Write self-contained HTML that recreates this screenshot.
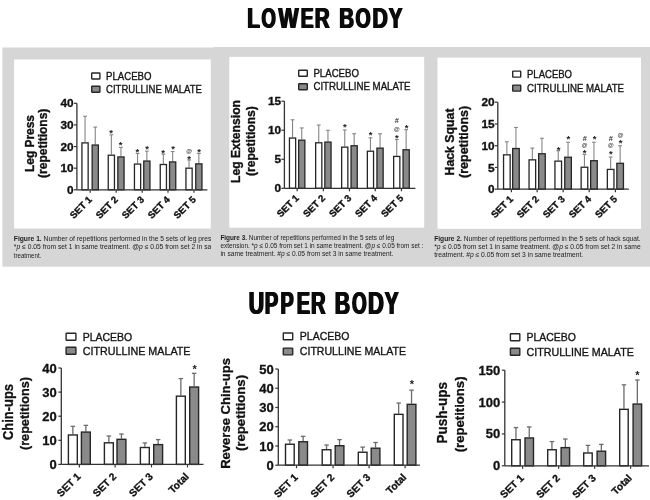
<!DOCTYPE html><html><head><meta charset="utf-8"><style>html,body{margin:0;padding:0;background:#fff;width:650px;height:500px;overflow:hidden}svg{display:block;will-change:transform}</style></head><body>
<svg width="650" height="500" viewBox="0 0 650 500" font-family='"Liberation Sans", sans-serif'>
<rect width="650" height="500" fill="#fff"/>
<text transform="translate(246.52,27.7) scale(0.6865,1)" font-size="30.09" font-weight="bold" fill="#0b0b0b">L</text>
<text transform="translate(247.27,27.7) scale(0.6865,1)" font-size="30.09" font-weight="bold" fill="#0b0b0b">L</text>
<text transform="translate(248.02,27.7) scale(0.6865,1)" font-size="30.09" font-weight="bold" fill="#0b0b0b">L</text>
<text transform="translate(260.74,27.7) scale(0.6123,1)" font-size="30.09" font-weight="bold" fill="#0b0b0b">O</text>
<text transform="translate(261.49,27.7) scale(0.6123,1)" font-size="30.09" font-weight="bold" fill="#0b0b0b">O</text>
<text transform="translate(262.24,27.7) scale(0.6123,1)" font-size="30.09" font-weight="bold" fill="#0b0b0b">O</text>
<text transform="translate(277.68,27.7) scale(0.7057,1)" font-size="30.09" font-weight="bold" fill="#0b0b0b">W</text>
<text transform="translate(278.43,27.7) scale(0.7057,1)" font-size="30.09" font-weight="bold" fill="#0b0b0b">W</text>
<text transform="translate(279.18,27.7) scale(0.7057,1)" font-size="30.09" font-weight="bold" fill="#0b0b0b">W</text>
<text transform="translate(299.91,27.7) scale(0.6398,1)" font-size="30.09" font-weight="bold" fill="#0b0b0b">E</text>
<text transform="translate(300.66,27.7) scale(0.6398,1)" font-size="30.09" font-weight="bold" fill="#0b0b0b">E</text>
<text transform="translate(301.41,27.7) scale(0.6398,1)" font-size="30.09" font-weight="bold" fill="#0b0b0b">E</text>
<text transform="translate(314.02,27.7) scale(0.6859,1)" font-size="30.09" font-weight="bold" fill="#0b0b0b">R</text>
<text transform="translate(314.77,27.7) scale(0.6859,1)" font-size="30.09" font-weight="bold" fill="#0b0b0b">R</text>
<text transform="translate(315.52,27.7) scale(0.6859,1)" font-size="30.09" font-weight="bold" fill="#0b0b0b">R</text>
<text transform="translate(338.43,27.7) scale(0.6812,1)" font-size="30.09" font-weight="bold" fill="#0b0b0b">B</text>
<text transform="translate(339.18,27.7) scale(0.6812,1)" font-size="30.09" font-weight="bold" fill="#0b0b0b">B</text>
<text transform="translate(339.93,27.7) scale(0.6812,1)" font-size="30.09" font-weight="bold" fill="#0b0b0b">B</text>
<text transform="translate(354.7,27.7) scale(0.6458,1)" font-size="30.09" font-weight="bold" fill="#0b0b0b">O</text>
<text transform="translate(355.45,27.7) scale(0.6458,1)" font-size="30.09" font-weight="bold" fill="#0b0b0b">O</text>
<text transform="translate(356.2,27.7) scale(0.6458,1)" font-size="30.09" font-weight="bold" fill="#0b0b0b">O</text>
<text transform="translate(371.78,27.7) scale(0.7045,1)" font-size="30.09" font-weight="bold" fill="#0b0b0b">D</text>
<text transform="translate(372.53,27.7) scale(0.7045,1)" font-size="30.09" font-weight="bold" fill="#0b0b0b">D</text>
<text transform="translate(373.28,27.7) scale(0.7045,1)" font-size="30.09" font-weight="bold" fill="#0b0b0b">D</text>
<text transform="translate(387.95,27.7) scale(0.6817,1)" font-size="30.09" font-weight="bold" fill="#0b0b0b">Y</text>
<text transform="translate(388.7,27.7) scale(0.6817,1)" font-size="30.09" font-weight="bold" fill="#0b0b0b">Y</text>
<text transform="translate(389.45,27.7) scale(0.6817,1)" font-size="30.09" font-weight="bold" fill="#0b0b0b">Y</text>
<text transform="translate(247.92,314.1) scale(0.6977,1)" font-size="30.52" font-weight="bold" fill="#0b0b0b">U</text>
<text transform="translate(248.67,314.1) scale(0.6977,1)" font-size="30.52" font-weight="bold" fill="#0b0b0b">U</text>
<text transform="translate(249.42,314.1) scale(0.6977,1)" font-size="30.52" font-weight="bold" fill="#0b0b0b">U</text>
<text transform="translate(264.05,314.1) scale(0.6600,1)" font-size="30.52" font-weight="bold" fill="#0b0b0b">P</text>
<text transform="translate(264.8,314.1) scale(0.6600,1)" font-size="30.52" font-weight="bold" fill="#0b0b0b">P</text>
<text transform="translate(265.55,314.1) scale(0.6600,1)" font-size="30.52" font-weight="bold" fill="#0b0b0b">P</text>
<text transform="translate(279.68,314.1) scale(0.6484,1)" font-size="30.52" font-weight="bold" fill="#0b0b0b">P</text>
<text transform="translate(280.43,314.1) scale(0.6484,1)" font-size="30.52" font-weight="bold" fill="#0b0b0b">P</text>
<text transform="translate(281.18,314.1) scale(0.6484,1)" font-size="30.52" font-weight="bold" fill="#0b0b0b">P</text>
<text transform="translate(295.96,314.1) scale(0.6540,1)" font-size="30.52" font-weight="bold" fill="#0b0b0b">E</text>
<text transform="translate(296.71,314.1) scale(0.6540,1)" font-size="30.52" font-weight="bold" fill="#0b0b0b">E</text>
<text transform="translate(297.46,314.1) scale(0.6540,1)" font-size="30.52" font-weight="bold" fill="#0b0b0b">E</text>
<text transform="translate(310.15,314.1) scale(0.6606,1)" font-size="30.52" font-weight="bold" fill="#0b0b0b">R</text>
<text transform="translate(310.9,314.1) scale(0.6606,1)" font-size="30.52" font-weight="bold" fill="#0b0b0b">R</text>
<text transform="translate(311.65,314.1) scale(0.6606,1)" font-size="30.52" font-weight="bold" fill="#0b0b0b">R</text>
<text transform="translate(333.97,314.1) scale(0.6984,1)" font-size="30.52" font-weight="bold" fill="#0b0b0b">B</text>
<text transform="translate(334.72,314.1) scale(0.6984,1)" font-size="30.52" font-weight="bold" fill="#0b0b0b">B</text>
<text transform="translate(335.47,314.1) scale(0.6984,1)" font-size="30.52" font-weight="bold" fill="#0b0b0b">B</text>
<text transform="translate(351.23,314.1) scale(0.6177,1)" font-size="30.52" font-weight="bold" fill="#0b0b0b">O</text>
<text transform="translate(351.98,314.1) scale(0.6177,1)" font-size="30.52" font-weight="bold" fill="#0b0b0b">O</text>
<text transform="translate(352.73,314.1) scale(0.6177,1)" font-size="30.52" font-weight="bold" fill="#0b0b0b">O</text>
<text transform="translate(367.33,314.1) scale(0.7212,1)" font-size="30.52" font-weight="bold" fill="#0b0b0b">D</text>
<text transform="translate(368.08,314.1) scale(0.7212,1)" font-size="30.52" font-weight="bold" fill="#0b0b0b">D</text>
<text transform="translate(368.83,314.1) scale(0.7212,1)" font-size="30.52" font-weight="bold" fill="#0b0b0b">D</text>
<text transform="translate(383.95,314.1) scale(0.6772,1)" font-size="30.52" font-weight="bold" fill="#0b0b0b">Y</text>
<text transform="translate(384.7,314.1) scale(0.6772,1)" font-size="30.52" font-weight="bold" fill="#0b0b0b">Y</text>
<text transform="translate(385.45,314.1) scale(0.6772,1)" font-size="30.52" font-weight="bold" fill="#0b0b0b">Y</text>
<rect x="2.4" y="47" width="647.6" height="219.7" fill="#d6d6d6"/>
<rect x="2.4" y="47" width="211" height="1" fill="#fff" opacity="0.5"/>
<rect x="14.1" y="59.5" width="196.7" height="169" fill="#fff"/>
<rect x="229.3" y="56.9" width="194.9" height="170.8" fill="#fff"/>
<rect x="437.5" y="57.6" width="203.5" height="171.2" fill="#fff"/>
<defs><clipPath id="cl1"><rect x="0" y="228" width="211" height="40"/></clipPath><clipPath id="cl2"><rect x="218" y="228" width="206" height="40"/></clipPath></defs>
<text x="13.8" y="240.9" font-size="6.9" fill="#1c1c1c" textLength="197.5" lengthAdjust="spacingAndGlyphs" clip-path="url(#cl1)"><tspan font-weight="bold">Figure 1.</tspan> Number of repetitions performed in the 5 sets of leg pres</text>
<text x="13.8" y="249.3" font-size="6.9" fill="#1c1c1c" textLength="197.5" lengthAdjust="spacingAndGlyphs" clip-path="url(#cl1)">*<tspan font-style="italic">p</tspan> ≤ 0.05 from set 1 in same treatment. @<tspan font-style="italic">p</tspan> ≤ 0.05 from set 2 in sa</text>
<text x="13.8" y="257.8" font-size="6.9" fill="#1c1c1c" textLength="27.5" lengthAdjust="spacingAndGlyphs" clip-path="url(#cl1)">treatment.</text>
<text x="220.4" y="239.6" font-size="6.9" fill="#1c1c1c" textLength="174" lengthAdjust="spacingAndGlyphs" clip-path="url(#cl2)"><tspan font-weight="bold">Figure 3.</tspan> Number of repetitions performed in the 5 sets of leg</text>
<text x="220.4" y="248" font-size="6.9" fill="#1c1c1c" textLength="203" lengthAdjust="spacingAndGlyphs" clip-path="url(#cl2)">extension. *<tspan font-style="italic">p</tspan> ≤ 0.05 from set 1 in same treatment. @<tspan font-style="italic">p</tspan> ≤ 0.05 from set :</text>
<text x="220.4" y="256.4" font-size="6.9" fill="#1c1c1c" textLength="173" lengthAdjust="spacingAndGlyphs" clip-path="url(#cl2)">in same treatment. #<tspan font-style="italic">p</tspan> ≤ 0.05 from set 3 in same treatment.</text>
<text x="434.2" y="240.8" font-size="6.9" fill="#1c1c1c" textLength="206.5" lengthAdjust="spacingAndGlyphs"><tspan font-weight="bold">Figure 2.</tspan> Number of repetitions performed in the 5 sets of hack squat.</text>
<text x="434.2" y="249" font-size="6.9" fill="#1c1c1c" textLength="206.5" lengthAdjust="spacingAndGlyphs">*<tspan font-style="italic">p</tspan> ≤ 0.05 from set 1 in same treatment. @<tspan font-style="italic">p</tspan> ≤ 0.05 from set 2 in same</text>
<text x="434.2" y="257.4" font-size="6.9" fill="#1c1c1c" textLength="149" lengthAdjust="spacingAndGlyphs">treatment. #<tspan font-style="italic">p</tspan> ≤ 0.05 from set 3 in same treatment.</text>
<line x1="85.05" y1="142.22" x2="85.05" y2="116.27" stroke="#858585" stroke-width="1.1"/>
<line x1="83.15" y1="116.27" x2="86.95" y2="116.27" stroke="#858585" stroke-width="1.1"/>
<rect x="81.95" y="142.88" width="6.2" height="46.93" fill="#fff" stroke="#262626" stroke-width="1.3"/>
<line x1="95.25" y1="144.39" x2="95.25" y2="127.09" stroke="#858585" stroke-width="1.1"/>
<line x1="93.35" y1="127.09" x2="97.15" y2="127.09" stroke="#858585" stroke-width="1.1"/>
<rect x="92.15" y="145.04" width="6.2" height="44.76" fill="#8a8a8a" stroke="#262626" stroke-width="1.3"/>
<line x1="111.35" y1="154.55" x2="111.35" y2="134.87" stroke="#858585" stroke-width="1.1"/>
<line x1="109.45" y1="134.87" x2="113.25" y2="134.87" stroke="#858585" stroke-width="1.1"/>
<rect x="108.25" y="155.2" width="6.2" height="34.6" fill="#fff" stroke="#262626" stroke-width="1.3"/>
<line x1="120.95" y1="156.28" x2="120.95" y2="147.41" stroke="#858585" stroke-width="1.1"/>
<line x1="119.05" y1="147.41" x2="122.85" y2="147.41" stroke="#858585" stroke-width="1.1"/>
<rect x="117.85" y="156.93" width="6.2" height="32.87" fill="#8a8a8a" stroke="#262626" stroke-width="1.3"/>
<line x1="137.55" y1="163.42" x2="137.55" y2="153.47" stroke="#858585" stroke-width="1.1"/>
<line x1="135.65" y1="153.47" x2="139.45" y2="153.47" stroke="#858585" stroke-width="1.1"/>
<rect x="134.45" y="164.07" width="6.2" height="25.73" fill="#fff" stroke="#262626" stroke-width="1.3"/>
<line x1="146.85" y1="160.39" x2="146.85" y2="151.09" stroke="#858585" stroke-width="1.1"/>
<line x1="144.95" y1="151.09" x2="148.75" y2="151.09" stroke="#858585" stroke-width="1.1"/>
<rect x="143.75" y="161.04" width="6.2" height="28.76" fill="#8a8a8a" stroke="#262626" stroke-width="1.3"/>
<line x1="163.35" y1="163.85" x2="163.35" y2="154.12" stroke="#858585" stroke-width="1.1"/>
<line x1="161.45" y1="154.12" x2="165.25" y2="154.12" stroke="#858585" stroke-width="1.1"/>
<rect x="160.25" y="164.5" width="6.2" height="25.3" fill="#fff" stroke="#262626" stroke-width="1.3"/>
<line x1="172.65" y1="161.25" x2="172.65" y2="151.52" stroke="#858585" stroke-width="1.1"/>
<line x1="170.75" y1="151.52" x2="174.55" y2="151.52" stroke="#858585" stroke-width="1.1"/>
<rect x="169.55" y="161.91" width="6.2" height="27.9" fill="#8a8a8a" stroke="#262626" stroke-width="1.3"/>
<line x1="189.05" y1="167.53" x2="189.05" y2="159.96" stroke="#858585" stroke-width="1.1"/>
<line x1="187.15" y1="159.96" x2="190.95" y2="159.96" stroke="#858585" stroke-width="1.1"/>
<rect x="185.95" y="168.18" width="6.2" height="21.62" fill="#fff" stroke="#262626" stroke-width="1.3"/>
<line x1="198.85" y1="163.2" x2="198.85" y2="153.47" stroke="#858585" stroke-width="1.1"/>
<line x1="196.95" y1="153.47" x2="200.75" y2="153.47" stroke="#858585" stroke-width="1.1"/>
<rect x="195.75" y="163.85" width="6.2" height="25.95" fill="#8a8a8a" stroke="#262626" stroke-width="1.3"/>
<text x="111" y="136.27" font-size="9.5" font-weight="bold" text-anchor="middle" fill="#1a1a1a">*</text>
<text x="120.7" y="148.47" font-size="9.5" font-weight="bold" text-anchor="middle" fill="#1a1a1a">*</text>
<text x="137.3" y="155.27" font-size="9.5" font-weight="bold" text-anchor="middle" fill="#1a1a1a">*</text>
<text x="147.1" y="151.87" font-size="9.5" font-weight="bold" text-anchor="middle" fill="#1a1a1a">*</text>
<text x="163.2" y="156.17" font-size="9.5" font-weight="bold" text-anchor="middle" fill="#1a1a1a">*</text>
<text x="173.2" y="151.87" font-size="9.5" font-weight="bold" text-anchor="middle" fill="#1a1a1a">*</text>
<text x="189.2" y="161.77" font-size="9.5" font-weight="bold" text-anchor="middle" fill="#1a1a1a">*</text>
<text x="189.2" y="152.83" font-size="5.89" font-weight="bold" text-anchor="middle" fill="#333">@</text>
<text x="199.2" y="154.97" font-size="9.5" font-weight="bold" text-anchor="middle" fill="#1a1a1a">*</text>
<line x1="76.9" y1="103.3" x2="76.9" y2="189.8" stroke="#333" stroke-width="1.3"/>
<line x1="76.9" y1="189.8" x2="207.4" y2="189.8" stroke="#333" stroke-width="1.3"/>
<line x1="73.9" y1="189.8" x2="76.9" y2="189.8" stroke="#333" stroke-width="1.2"/>
<text x="73.6" y="193.93" font-size="11.8" font-weight="bold" text-anchor="end" fill="#111" stroke="#111" stroke-width="0.35">0</text>
<line x1="73.9" y1="168.18" x2="76.9" y2="168.18" stroke="#333" stroke-width="1.2"/>
<text x="73.6" y="172.31" font-size="11.8" font-weight="bold" text-anchor="end" fill="#111" stroke="#111" stroke-width="0.35">10</text>
<line x1="73.9" y1="146.55" x2="76.9" y2="146.55" stroke="#333" stroke-width="1.2"/>
<text x="73.6" y="150.68" font-size="11.8" font-weight="bold" text-anchor="end" fill="#111" stroke="#111" stroke-width="0.35">20</text>
<line x1="73.9" y1="124.92" x2="76.9" y2="124.92" stroke="#333" stroke-width="1.2"/>
<text x="73.6" y="129.06" font-size="11.8" font-weight="bold" text-anchor="end" fill="#111" stroke="#111" stroke-width="0.35">30</text>
<line x1="73.9" y1="103.3" x2="76.9" y2="103.3" stroke="#333" stroke-width="1.2"/>
<text x="73.6" y="107.43" font-size="11.8" font-weight="bold" text-anchor="end" fill="#111" stroke="#111" stroke-width="0.35">40</text>
<line x1="90.15" y1="189.8" x2="90.15" y2="192.8" stroke="#333" stroke-width="1.2"/>
<text transform="translate(92.65,200.3) rotate(-45)" font-size="9.6" font-weight="bold" text-anchor="end" fill="#111" stroke="#111" stroke-width="0.35">SET 1</text>
<line x1="116.15" y1="189.8" x2="116.15" y2="192.8" stroke="#333" stroke-width="1.2"/>
<text transform="translate(118.65,200.3) rotate(-45)" font-size="9.6" font-weight="bold" text-anchor="end" fill="#111" stroke="#111" stroke-width="0.35">SET 2</text>
<line x1="142.2" y1="189.8" x2="142.2" y2="192.8" stroke="#333" stroke-width="1.2"/>
<text transform="translate(144.7,200.3) rotate(-45)" font-size="9.6" font-weight="bold" text-anchor="end" fill="#111" stroke="#111" stroke-width="0.35">SET 3</text>
<line x1="168" y1="189.8" x2="168" y2="192.8" stroke="#333" stroke-width="1.2"/>
<text transform="translate(170.5,200.3) rotate(-45)" font-size="9.6" font-weight="bold" text-anchor="end" fill="#111" stroke="#111" stroke-width="0.35">SET 4</text>
<line x1="193.95" y1="189.8" x2="193.95" y2="192.8" stroke="#333" stroke-width="1.2"/>
<text transform="translate(196.45,200.3) rotate(-45)" font-size="9.6" font-weight="bold" text-anchor="end" fill="#111" stroke="#111" stroke-width="0.35">SET 5</text>
<text transform="translate(33.9,143.5) rotate(-90)" font-size="12.8" font-weight="bold" text-anchor="middle" fill="#111" stroke="#111" stroke-width="0.35" textLength="57" lengthAdjust="spacingAndGlyphs">Leg Press</text>
<text transform="translate(47.4,143.3) rotate(-90)" font-size="12.6" font-weight="bold" text-anchor="middle" fill="#111" stroke="#111" stroke-width="0.35" textLength="69.3" lengthAdjust="spacingAndGlyphs">(repetitions)</text>
<rect x="91.7" y="73" width="8.2" height="6" rx="0.4" fill="#fff" stroke="#262626" stroke-width="1.4"/>
<rect x="91.7" y="86.2" width="8.2" height="6" rx="0.4" fill="#8a8a8a" stroke="#262626" stroke-width="1.4"/>
<text x="106" y="79.78" font-size="10.5" font-weight="normal" text-anchor="start" fill="#151515" textLength="45.5" lengthAdjust="spacingAndGlyphs" stroke="#151515" stroke-width="0.35">PLACEBO</text>
<text x="106" y="92.98" font-size="10.5" font-weight="normal" text-anchor="start" fill="#151515" textLength="96" lengthAdjust="spacingAndGlyphs" stroke="#151515" stroke-width="0.35">CITRULLINE MALATE</text>
<line x1="292.55" y1="137.38" x2="292.55" y2="119.78" stroke="#858585" stroke-width="1.1"/>
<line x1="290.65" y1="119.78" x2="294.45" y2="119.78" stroke="#858585" stroke-width="1.1"/>
<rect x="289.45" y="138.03" width="6.2" height="50.27" fill="#fff" stroke="#262626" stroke-width="1.3"/>
<line x1="301.75" y1="139.52" x2="301.75" y2="127.91" stroke="#858585" stroke-width="1.1"/>
<line x1="299.85" y1="127.91" x2="303.65" y2="127.91" stroke="#858585" stroke-width="1.1"/>
<rect x="298.65" y="140.17" width="6.2" height="48.13" fill="#8a8a8a" stroke="#262626" stroke-width="1.3"/>
<line x1="318.75" y1="142.14" x2="318.75" y2="125.01" stroke="#858585" stroke-width="1.1"/>
<line x1="316.85" y1="125.01" x2="320.65" y2="125.01" stroke="#858585" stroke-width="1.1"/>
<rect x="315.65" y="142.79" width="6.2" height="45.51" fill="#fff" stroke="#262626" stroke-width="1.3"/>
<line x1="327.95" y1="141.44" x2="327.95" y2="130.23" stroke="#858585" stroke-width="1.1"/>
<line x1="326.05" y1="130.23" x2="329.85" y2="130.23" stroke="#858585" stroke-width="1.1"/>
<rect x="324.85" y="142.09" width="6.2" height="46.21" fill="#8a8a8a" stroke="#262626" stroke-width="1.3"/>
<line x1="344.75" y1="146.49" x2="344.75" y2="129.94" stroke="#858585" stroke-width="1.1"/>
<line x1="342.85" y1="129.94" x2="346.65" y2="129.94" stroke="#858585" stroke-width="1.1"/>
<rect x="341.65" y="147.14" width="6.2" height="41.16" fill="#fff" stroke="#262626" stroke-width="1.3"/>
<line x1="354.15" y1="145.1" x2="354.15" y2="133.72" stroke="#858585" stroke-width="1.1"/>
<line x1="352.25" y1="133.72" x2="356.05" y2="133.72" stroke="#858585" stroke-width="1.1"/>
<rect x="351.05" y="145.75" width="6.2" height="42.55" fill="#8a8a8a" stroke="#262626" stroke-width="1.3"/>
<line x1="370.45" y1="150.56" x2="370.45" y2="137.78" stroke="#858585" stroke-width="1.1"/>
<line x1="368.55" y1="137.78" x2="372.35" y2="137.78" stroke="#858585" stroke-width="1.1"/>
<rect x="367.35" y="151.21" width="6.2" height="37.09" fill="#fff" stroke="#262626" stroke-width="1.3"/>
<line x1="380.05" y1="147.48" x2="380.05" y2="133.72" stroke="#858585" stroke-width="1.1"/>
<line x1="378.15" y1="133.72" x2="381.95" y2="133.72" stroke="#858585" stroke-width="1.1"/>
<rect x="376.95" y="148.13" width="6.2" height="40.17" fill="#8a8a8a" stroke="#262626" stroke-width="1.3"/>
<line x1="396.75" y1="155.78" x2="396.75" y2="139.52" stroke="#858585" stroke-width="1.1"/>
<line x1="394.85" y1="139.52" x2="398.65" y2="139.52" stroke="#858585" stroke-width="1.1"/>
<rect x="393.65" y="156.43" width="6.2" height="31.87" fill="#fff" stroke="#262626" stroke-width="1.3"/>
<line x1="406.15" y1="149.11" x2="406.15" y2="129.65" stroke="#858585" stroke-width="1.1"/>
<line x1="404.25" y1="129.65" x2="408.05" y2="129.65" stroke="#858585" stroke-width="1.1"/>
<rect x="403.05" y="149.76" width="6.2" height="38.54" fill="#8a8a8a" stroke="#262626" stroke-width="1.3"/>
<text x="344.8" y="130.17" font-size="9.5" font-weight="bold" text-anchor="middle" fill="#1a1a1a">*</text>
<text x="370.7" y="138.07" font-size="9.5" font-weight="bold" text-anchor="middle" fill="#1a1a1a">*</text>
<text x="396.9" y="140.57" font-size="9.5" font-weight="bold" text-anchor="middle" fill="#1a1a1a">*</text>
<text x="396.9" y="130.53" font-size="5.89" font-weight="bold" text-anchor="middle" fill="#333">@</text>
<text x="396.9" y="123.32" font-size="7.41" font-weight="bold" text-anchor="middle" fill="#333">#</text>
<text x="406.5" y="130.57" font-size="9.5" font-weight="bold" text-anchor="middle" fill="#1a1a1a">*</text>
<line x1="284.4" y1="101.2" x2="284.4" y2="188.3" stroke="#333" stroke-width="1.3"/>
<line x1="284.4" y1="188.3" x2="415.4" y2="188.3" stroke="#333" stroke-width="1.3"/>
<line x1="281.4" y1="188.3" x2="284.4" y2="188.3" stroke="#333" stroke-width="1.2"/>
<text x="281.1" y="192.43" font-size="11.8" font-weight="bold" text-anchor="end" fill="#111" stroke="#111" stroke-width="0.35">0</text>
<line x1="281.4" y1="159.27" x2="284.4" y2="159.27" stroke="#333" stroke-width="1.2"/>
<text x="281.1" y="163.4" font-size="11.8" font-weight="bold" text-anchor="end" fill="#111" stroke="#111" stroke-width="0.35">5</text>
<line x1="281.4" y1="130.23" x2="284.4" y2="130.23" stroke="#333" stroke-width="1.2"/>
<text x="281.1" y="134.36" font-size="11.8" font-weight="bold" text-anchor="end" fill="#111" stroke="#111" stroke-width="0.35">10</text>
<line x1="281.4" y1="101.2" x2="284.4" y2="101.2" stroke="#333" stroke-width="1.2"/>
<text x="281.1" y="105.33" font-size="11.8" font-weight="bold" text-anchor="end" fill="#111" stroke="#111" stroke-width="0.35">15</text>
<line x1="297.15" y1="188.3" x2="297.15" y2="191.3" stroke="#333" stroke-width="1.2"/>
<text transform="translate(299.65,198.8) rotate(-45)" font-size="9.6" font-weight="bold" text-anchor="end" fill="#111" stroke="#111" stroke-width="0.35">SET 1</text>
<line x1="323.35" y1="188.3" x2="323.35" y2="191.3" stroke="#333" stroke-width="1.2"/>
<text transform="translate(325.85,198.8) rotate(-45)" font-size="9.6" font-weight="bold" text-anchor="end" fill="#111" stroke="#111" stroke-width="0.35">SET 2</text>
<line x1="349.45" y1="188.3" x2="349.45" y2="191.3" stroke="#333" stroke-width="1.2"/>
<text transform="translate(351.95,198.8) rotate(-45)" font-size="9.6" font-weight="bold" text-anchor="end" fill="#111" stroke="#111" stroke-width="0.35">SET 3</text>
<line x1="375.25" y1="188.3" x2="375.25" y2="191.3" stroke="#333" stroke-width="1.2"/>
<text transform="translate(377.75,198.8) rotate(-45)" font-size="9.6" font-weight="bold" text-anchor="end" fill="#111" stroke="#111" stroke-width="0.35">SET 4</text>
<line x1="401.45" y1="188.3" x2="401.45" y2="191.3" stroke="#333" stroke-width="1.2"/>
<text transform="translate(403.95,198.8) rotate(-45)" font-size="9.6" font-weight="bold" text-anchor="end" fill="#111" stroke="#111" stroke-width="0.35">SET 5</text>
<text transform="translate(239.8,141.5) rotate(-90)" font-size="12.8" font-weight="bold" text-anchor="middle" fill="#111" stroke="#111" stroke-width="0.35" textLength="83" lengthAdjust="spacingAndGlyphs">Leg Extension</text>
<text transform="translate(255,141.1) rotate(-90)" font-size="12.6" font-weight="bold" text-anchor="middle" fill="#111" stroke="#111" stroke-width="0.35" textLength="69.8" lengthAdjust="spacingAndGlyphs">(repetitions)</text>
<rect x="298.7" y="70.3" width="8.6" height="6" rx="0.4" fill="#fff" stroke="#262626" stroke-width="1.4"/>
<rect x="298.7" y="83.7" width="8.6" height="6" rx="0.4" fill="#8a8a8a" stroke="#262626" stroke-width="1.4"/>
<text x="313.4" y="77.08" font-size="10.5" font-weight="normal" text-anchor="start" fill="#151515" textLength="45.6" lengthAdjust="spacingAndGlyphs" stroke="#151515" stroke-width="0.35">PLACEBO</text>
<text x="313.4" y="90.48" font-size="10.5" font-weight="normal" text-anchor="start" fill="#151515" textLength="97.2" lengthAdjust="spacingAndGlyphs" stroke="#151515" stroke-width="0.35">CITRULLINE MALATE</text>
<line x1="506.85" y1="154.18" x2="506.85" y2="141.78" stroke="#858585" stroke-width="1.1"/>
<line x1="504.95" y1="141.78" x2="508.75" y2="141.78" stroke="#858585" stroke-width="1.1"/>
<rect x="503.55" y="154.83" width="6.6" height="34.37" fill="#fff" stroke="#262626" stroke-width="1.3"/>
<line x1="515.95" y1="147.88" x2="515.95" y2="127.43" stroke="#858585" stroke-width="1.1"/>
<line x1="514.05" y1="127.43" x2="517.85" y2="127.43" stroke="#858585" stroke-width="1.1"/>
<rect x="512.65" y="148.53" width="6.6" height="40.67" fill="#8a8a8a" stroke="#262626" stroke-width="1.3"/>
<line x1="532.35" y1="159.19" x2="532.35" y2="148.09" stroke="#858585" stroke-width="1.1"/>
<line x1="530.45" y1="148.09" x2="534.25" y2="148.09" stroke="#858585" stroke-width="1.1"/>
<rect x="529.05" y="159.84" width="6.6" height="29.36" fill="#fff" stroke="#262626" stroke-width="1.3"/>
<line x1="541.95" y1="153.09" x2="541.95" y2="138.31" stroke="#858585" stroke-width="1.1"/>
<line x1="540.05" y1="138.31" x2="543.85" y2="138.31" stroke="#858585" stroke-width="1.1"/>
<rect x="538.65" y="153.75" width="6.6" height="35.45" fill="#8a8a8a" stroke="#262626" stroke-width="1.3"/>
<line x1="558.25" y1="160.49" x2="558.25" y2="150.7" stroke="#858585" stroke-width="1.1"/>
<line x1="556.35" y1="150.7" x2="560.15" y2="150.7" stroke="#858585" stroke-width="1.1"/>
<rect x="554.95" y="161.14" width="6.6" height="28.06" fill="#fff" stroke="#262626" stroke-width="1.3"/>
<line x1="568.05" y1="156.57" x2="568.05" y2="142.22" stroke="#858585" stroke-width="1.1"/>
<line x1="566.15" y1="142.22" x2="569.95" y2="142.22" stroke="#858585" stroke-width="1.1"/>
<rect x="564.75" y="157.22" width="6.6" height="31.98" fill="#8a8a8a" stroke="#262626" stroke-width="1.3"/>
<line x1="584.45" y1="166.58" x2="584.45" y2="154.4" stroke="#858585" stroke-width="1.1"/>
<line x1="582.55" y1="154.4" x2="586.35" y2="154.4" stroke="#858585" stroke-width="1.1"/>
<rect x="581.15" y="167.23" width="6.6" height="21.97" fill="#fff" stroke="#262626" stroke-width="1.3"/>
<line x1="593.95" y1="160.05" x2="593.95" y2="142.22" stroke="#858585" stroke-width="1.1"/>
<line x1="592.05" y1="142.22" x2="595.85" y2="142.22" stroke="#858585" stroke-width="1.1"/>
<rect x="590.65" y="160.7" width="6.6" height="28.5" fill="#8a8a8a" stroke="#262626" stroke-width="1.3"/>
<line x1="610.65" y1="168.75" x2="610.65" y2="157.01" stroke="#858585" stroke-width="1.1"/>
<line x1="608.75" y1="157.01" x2="612.55" y2="157.01" stroke="#858585" stroke-width="1.1"/>
<rect x="607.35" y="169.41" width="6.6" height="19.79" fill="#fff" stroke="#262626" stroke-width="1.3"/>
<line x1="620.15" y1="162.66" x2="620.15" y2="145.7" stroke="#858585" stroke-width="1.1"/>
<line x1="618.25" y1="145.7" x2="622.05" y2="145.7" stroke="#858585" stroke-width="1.1"/>
<rect x="616.85" y="163.31" width="6.6" height="25.88" fill="#8a8a8a" stroke="#262626" stroke-width="1.3"/>
<text x="558.5" y="152.57" font-size="9.5" font-weight="bold" text-anchor="middle" fill="#1a1a1a">*</text>
<text x="568.3" y="142.07" font-size="9.5" font-weight="bold" text-anchor="middle" fill="#1a1a1a">*</text>
<text x="584.7" y="155.87" font-size="9.5" font-weight="bold" text-anchor="middle" fill="#1a1a1a">*</text>
<text x="584.7" y="147.23" font-size="5.89" font-weight="bold" text-anchor="middle" fill="#333">@</text>
<text x="584.7" y="141.32" font-size="7.41" font-weight="bold" text-anchor="middle" fill="#333">#</text>
<text x="594.5" y="142.47" font-size="9.5" font-weight="bold" text-anchor="middle" fill="#1a1a1a">*</text>
<text x="610.8" y="157.07" font-size="9.5" font-weight="bold" text-anchor="middle" fill="#1a1a1a">*</text>
<text x="610.8" y="147.43" font-size="5.89" font-weight="bold" text-anchor="middle" fill="#333">@</text>
<text x="610.8" y="141.32" font-size="7.41" font-weight="bold" text-anchor="middle" fill="#333">#</text>
<text x="620.6" y="146.37" font-size="9.5" font-weight="bold" text-anchor="middle" fill="#1a1a1a">*</text>
<text x="620.6" y="137.43" font-size="5.89" font-weight="bold" text-anchor="middle" fill="#333">@</text>
<line x1="497.8" y1="102.2" x2="497.8" y2="189.2" stroke="#333" stroke-width="1.3"/>
<line x1="497.8" y1="189.2" x2="628.8" y2="189.2" stroke="#333" stroke-width="1.3"/>
<line x1="494.8" y1="189.2" x2="497.8" y2="189.2" stroke="#333" stroke-width="1.2"/>
<text x="494.5" y="193.33" font-size="11.8" font-weight="bold" text-anchor="end" fill="#111" stroke="#111" stroke-width="0.35">0</text>
<line x1="494.8" y1="167.45" x2="497.8" y2="167.45" stroke="#333" stroke-width="1.2"/>
<text x="494.5" y="171.58" font-size="11.8" font-weight="bold" text-anchor="end" fill="#111" stroke="#111" stroke-width="0.35">5</text>
<line x1="494.8" y1="145.7" x2="497.8" y2="145.7" stroke="#333" stroke-width="1.2"/>
<text x="494.5" y="149.83" font-size="11.8" font-weight="bold" text-anchor="end" fill="#111" stroke="#111" stroke-width="0.35">10</text>
<line x1="494.8" y1="123.95" x2="497.8" y2="123.95" stroke="#333" stroke-width="1.2"/>
<text x="494.5" y="128.08" font-size="11.8" font-weight="bold" text-anchor="end" fill="#111" stroke="#111" stroke-width="0.35">15</text>
<line x1="494.8" y1="102.2" x2="497.8" y2="102.2" stroke="#333" stroke-width="1.2"/>
<text x="494.5" y="106.33" font-size="11.8" font-weight="bold" text-anchor="end" fill="#111" stroke="#111" stroke-width="0.35">20</text>
<line x1="511.4" y1="189.2" x2="511.4" y2="192.2" stroke="#333" stroke-width="1.2"/>
<text transform="translate(513.9,199.7) rotate(-45)" font-size="9.6" font-weight="bold" text-anchor="end" fill="#111" stroke="#111" stroke-width="0.35">SET 1</text>
<line x1="537.15" y1="189.2" x2="537.15" y2="192.2" stroke="#333" stroke-width="1.2"/>
<text transform="translate(539.65,199.7) rotate(-45)" font-size="9.6" font-weight="bold" text-anchor="end" fill="#111" stroke="#111" stroke-width="0.35">SET 2</text>
<line x1="563.15" y1="189.2" x2="563.15" y2="192.2" stroke="#333" stroke-width="1.2"/>
<text transform="translate(565.65,199.7) rotate(-45)" font-size="9.6" font-weight="bold" text-anchor="end" fill="#111" stroke="#111" stroke-width="0.35">SET 3</text>
<line x1="589.2" y1="189.2" x2="589.2" y2="192.2" stroke="#333" stroke-width="1.2"/>
<text transform="translate(591.7,199.7) rotate(-45)" font-size="9.6" font-weight="bold" text-anchor="end" fill="#111" stroke="#111" stroke-width="0.35">SET 4</text>
<line x1="615.4" y1="189.2" x2="615.4" y2="192.2" stroke="#333" stroke-width="1.2"/>
<text transform="translate(617.9,199.7) rotate(-45)" font-size="9.6" font-weight="bold" text-anchor="end" fill="#111" stroke="#111" stroke-width="0.35">SET 5</text>
<text transform="translate(454.2,142) rotate(-90)" font-size="12.8" font-weight="bold" text-anchor="middle" fill="#111" stroke="#111" stroke-width="0.35" textLength="67" lengthAdjust="spacingAndGlyphs">Hack Squat</text>
<text transform="translate(468,141.9) rotate(-90)" font-size="12.6" font-weight="bold" text-anchor="middle" fill="#111" stroke="#111" stroke-width="0.35" textLength="72" lengthAdjust="spacingAndGlyphs">(repetitions)</text>
<rect x="512.7" y="71.1" width="8" height="6" rx="0.4" fill="#fff" stroke="#262626" stroke-width="1.4"/>
<rect x="512.7" y="85.1" width="8" height="6" rx="0.4" fill="#8a8a8a" stroke="#262626" stroke-width="1.4"/>
<text x="527" y="77.88" font-size="10.5" font-weight="normal" text-anchor="start" fill="#151515" textLength="45" lengthAdjust="spacingAndGlyphs" stroke="#151515" stroke-width="0.35">PLACEBO</text>
<text x="527" y="91.88" font-size="10.5" font-weight="normal" text-anchor="start" fill="#151515" textLength="97" lengthAdjust="spacingAndGlyphs" stroke="#151515" stroke-width="0.35">CITRULLINE MALATE</text>
<line x1="72.85" y1="434.27" x2="72.85" y2="426.32" stroke="#6c6c6c" stroke-width="1.3"/>
<line x1="70.6" y1="426.32" x2="75.1" y2="426.32" stroke="#6c6c6c" stroke-width="1.3"/>
<rect x="68.4" y="434.97" width="8.9" height="29.43" fill="#fff" stroke="#262626" stroke-width="1.4"/>
<line x1="85.85" y1="431.38" x2="85.85" y2="425.36" stroke="#6c6c6c" stroke-width="1.3"/>
<line x1="83.6" y1="425.36" x2="88.1" y2="425.36" stroke="#6c6c6c" stroke-width="1.3"/>
<rect x="81.4" y="432.08" width="8.9" height="32.32" fill="#8a8a8a" stroke="#262626" stroke-width="1.4"/>
<line x1="108.85" y1="442.11" x2="108.85" y2="435.96" stroke="#6c6c6c" stroke-width="1.3"/>
<line x1="106.6" y1="435.96" x2="111.1" y2="435.96" stroke="#6c6c6c" stroke-width="1.3"/>
<rect x="104.4" y="442.81" width="8.9" height="21.59" fill="#fff" stroke="#262626" stroke-width="1.4"/>
<line x1="121.45" y1="438.61" x2="121.45" y2="434.03" stroke="#6c6c6c" stroke-width="1.3"/>
<line x1="119.2" y1="434.03" x2="123.7" y2="434.03" stroke="#6c6c6c" stroke-width="1.3"/>
<rect x="117" y="439.31" width="8.9" height="25.09" fill="#8a8a8a" stroke="#262626" stroke-width="1.4"/>
<line x1="144.85" y1="446.81" x2="144.85" y2="442.95" stroke="#6c6c6c" stroke-width="1.3"/>
<line x1="142.6" y1="442.95" x2="147.1" y2="442.95" stroke="#6c6c6c" stroke-width="1.3"/>
<rect x="140.4" y="447.51" width="8.9" height="16.89" fill="#fff" stroke="#262626" stroke-width="1.4"/>
<line x1="158.15" y1="443.91" x2="158.15" y2="439.58" stroke="#6c6c6c" stroke-width="1.3"/>
<line x1="155.9" y1="439.58" x2="160.4" y2="439.58" stroke="#6c6c6c" stroke-width="1.3"/>
<rect x="153.7" y="444.61" width="8.9" height="19.79" fill="#8a8a8a" stroke="#262626" stroke-width="1.4"/>
<line x1="180.85" y1="395.47" x2="180.85" y2="378.6" stroke="#6c6c6c" stroke-width="1.3"/>
<line x1="178.6" y1="378.6" x2="183.1" y2="378.6" stroke="#6c6c6c" stroke-width="1.3"/>
<rect x="176.4" y="396.17" width="8.9" height="68.23" fill="#fff" stroke="#262626" stroke-width="1.4"/>
<line x1="194.15" y1="386.32" x2="194.15" y2="373.3" stroke="#6c6c6c" stroke-width="1.3"/>
<line x1="191.9" y1="373.3" x2="196.4" y2="373.3" stroke="#6c6c6c" stroke-width="1.3"/>
<rect x="189.7" y="387.02" width="8.9" height="77.38" fill="#8a8a8a" stroke="#262626" stroke-width="1.4"/>
<text x="194.6" y="372.72" font-size="11" font-weight="bold" text-anchor="middle" fill="#1a1a1a">*</text>
<line x1="61.3" y1="368" x2="61.3" y2="464.4" stroke="#333" stroke-width="1.3"/>
<line x1="61.3" y1="464.4" x2="203.5" y2="464.4" stroke="#333" stroke-width="1.3"/>
<line x1="58.3" y1="464.4" x2="61.3" y2="464.4" stroke="#333" stroke-width="1.2"/>
<text x="56.7" y="468.95" font-size="13" font-weight="bold" text-anchor="end" fill="#111" stroke="#111" stroke-width="0.3">0</text>
<line x1="58.3" y1="440.3" x2="61.3" y2="440.3" stroke="#333" stroke-width="1.2"/>
<text x="56.7" y="444.85" font-size="13" font-weight="bold" text-anchor="end" fill="#111" stroke="#111" stroke-width="0.3">10</text>
<line x1="58.3" y1="416.2" x2="61.3" y2="416.2" stroke="#333" stroke-width="1.2"/>
<text x="56.7" y="420.75" font-size="13" font-weight="bold" text-anchor="end" fill="#111" stroke="#111" stroke-width="0.3">20</text>
<line x1="58.3" y1="392.1" x2="61.3" y2="392.1" stroke="#333" stroke-width="1.2"/>
<text x="56.7" y="396.65" font-size="13" font-weight="bold" text-anchor="end" fill="#111" stroke="#111" stroke-width="0.3">30</text>
<line x1="58.3" y1="368" x2="61.3" y2="368" stroke="#333" stroke-width="1.2"/>
<text x="56.7" y="372.55" font-size="13" font-weight="bold" text-anchor="end" fill="#111" stroke="#111" stroke-width="0.3">40</text>
<line x1="79.35" y1="464.4" x2="79.35" y2="467.4" stroke="#333" stroke-width="1.2"/>
<text transform="translate(81.35,477.2) rotate(-45)" font-size="10.3" font-weight="bold" text-anchor="end" fill="#111" stroke="#111" stroke-width="0.3">SET 1</text>
<line x1="115.15" y1="464.4" x2="115.15" y2="467.4" stroke="#333" stroke-width="1.2"/>
<text transform="translate(117.15,477.2) rotate(-45)" font-size="10.3" font-weight="bold" text-anchor="end" fill="#111" stroke="#111" stroke-width="0.3">SET 2</text>
<line x1="151.5" y1="464.4" x2="151.5" y2="467.4" stroke="#333" stroke-width="1.2"/>
<text transform="translate(153.5,477.2) rotate(-45)" font-size="10.3" font-weight="bold" text-anchor="end" fill="#111" stroke="#111" stroke-width="0.3">SET 3</text>
<line x1="187.5" y1="464.4" x2="187.5" y2="467.4" stroke="#333" stroke-width="1.2"/>
<text transform="translate(189.5,477.2) rotate(-45)" font-size="10.3" font-weight="bold" text-anchor="end" fill="#111" stroke="#111" stroke-width="0.3">Total</text>
<text transform="translate(12.6,412) rotate(-90)" font-size="13.8" font-weight="bold" text-anchor="middle" fill="#111" stroke="#111" stroke-width="0.3" textLength="56" lengthAdjust="spacingAndGlyphs">Chin-ups</text>
<text transform="translate(29.3,413.5) rotate(-90)" font-size="13" font-weight="bold" text-anchor="middle" fill="#111" stroke="#111" stroke-width="0.3" textLength="73" lengthAdjust="spacingAndGlyphs">(repetitions)</text>
<rect x="66.1" y="333.2" width="9.8" height="7" rx="0.4" fill="#fff" stroke="#262626" stroke-width="1.4"/>
<rect x="66.1" y="347.3" width="9.8" height="7" rx="0.4" fill="#8a8a8a" stroke="#262626" stroke-width="1.4"/>
<text x="82.7" y="340.59" font-size="10.8" font-weight="normal" text-anchor="start" fill="#151515" textLength="49.6" lengthAdjust="spacingAndGlyphs" stroke="#151515" stroke-width="0.35">PLACEBO</text>
<text x="82.7" y="354.69" font-size="10.8" font-weight="normal" text-anchor="start" fill="#151515" textLength="107.8" lengthAdjust="spacingAndGlyphs" stroke="#151515" stroke-width="0.35">CITRULLINE MALATE</text>
<line x1="289.85" y1="443.56" x2="289.85" y2="440" stroke="#6c6c6c" stroke-width="1.3"/>
<line x1="287.6" y1="440" x2="292.1" y2="440" stroke="#6c6c6c" stroke-width="1.3"/>
<rect x="285.5" y="444.25" width="8.7" height="20.94" fill="#fff" stroke="#262626" stroke-width="1.4"/>
<line x1="303.15" y1="441.05" x2="303.15" y2="436.34" stroke="#6c6c6c" stroke-width="1.3"/>
<line x1="300.9" y1="436.34" x2="305.4" y2="436.34" stroke="#6c6c6c" stroke-width="1.3"/>
<rect x="298.8" y="441.75" width="8.7" height="23.45" fill="#8a8a8a" stroke="#262626" stroke-width="1.4"/>
<line x1="326.55" y1="449.04" x2="326.55" y2="445" stroke="#6c6c6c" stroke-width="1.3"/>
<line x1="324.3" y1="445" x2="328.8" y2="445" stroke="#6c6c6c" stroke-width="1.3"/>
<rect x="322.2" y="449.74" width="8.7" height="15.46" fill="#fff" stroke="#262626" stroke-width="1.4"/>
<line x1="339.55" y1="445" x2="339.55" y2="439.61" stroke="#6c6c6c" stroke-width="1.3"/>
<line x1="337.3" y1="439.61" x2="341.8" y2="439.61" stroke="#6c6c6c" stroke-width="1.3"/>
<rect x="335.2" y="445.7" width="8.7" height="19.5" fill="#8a8a8a" stroke="#262626" stroke-width="1.4"/>
<line x1="362.65" y1="451.54" x2="362.65" y2="447.11" stroke="#6c6c6c" stroke-width="1.3"/>
<line x1="360.4" y1="447.11" x2="364.9" y2="447.11" stroke="#6c6c6c" stroke-width="1.3"/>
<rect x="358.3" y="452.24" width="8.7" height="12.96" fill="#fff" stroke="#262626" stroke-width="1.4"/>
<line x1="375.55" y1="447.5" x2="375.55" y2="442.5" stroke="#6c6c6c" stroke-width="1.3"/>
<line x1="373.3" y1="442.5" x2="377.8" y2="442.5" stroke="#6c6c6c" stroke-width="1.3"/>
<rect x="371.2" y="448.2" width="8.7" height="17" fill="#8a8a8a" stroke="#262626" stroke-width="1.4"/>
<line x1="398.65" y1="413.64" x2="398.65" y2="403.05" stroke="#6c6c6c" stroke-width="1.3"/>
<line x1="396.4" y1="403.05" x2="400.9" y2="403.05" stroke="#6c6c6c" stroke-width="1.3"/>
<rect x="394.3" y="414.34" width="8.7" height="50.86" fill="#fff" stroke="#262626" stroke-width="1.4"/>
<line x1="411.55" y1="403.63" x2="411.55" y2="390.16" stroke="#6c6c6c" stroke-width="1.3"/>
<line x1="409.3" y1="390.16" x2="413.8" y2="390.16" stroke="#6c6c6c" stroke-width="1.3"/>
<rect x="407.2" y="404.33" width="8.7" height="60.87" fill="#8a8a8a" stroke="#262626" stroke-width="1.4"/>
<text x="411.8" y="387.92" font-size="11" font-weight="bold" text-anchor="middle" fill="#1a1a1a">*</text>
<line x1="278.3" y1="369" x2="278.3" y2="465.2" stroke="#333" stroke-width="1.3"/>
<line x1="278.3" y1="465.2" x2="419.9" y2="465.2" stroke="#333" stroke-width="1.3"/>
<line x1="275.3" y1="465.2" x2="278.3" y2="465.2" stroke="#333" stroke-width="1.2"/>
<text x="273.7" y="469.75" font-size="13" font-weight="bold" text-anchor="end" fill="#111" stroke="#111" stroke-width="0.3">0</text>
<line x1="275.3" y1="445.96" x2="278.3" y2="445.96" stroke="#333" stroke-width="1.2"/>
<text x="273.7" y="450.51" font-size="13" font-weight="bold" text-anchor="end" fill="#111" stroke="#111" stroke-width="0.3">10</text>
<line x1="275.3" y1="426.72" x2="278.3" y2="426.72" stroke="#333" stroke-width="1.2"/>
<text x="273.7" y="431.27" font-size="13" font-weight="bold" text-anchor="end" fill="#111" stroke="#111" stroke-width="0.3">20</text>
<line x1="275.3" y1="407.48" x2="278.3" y2="407.48" stroke="#333" stroke-width="1.2"/>
<text x="273.7" y="412.03" font-size="13" font-weight="bold" text-anchor="end" fill="#111" stroke="#111" stroke-width="0.3">30</text>
<line x1="275.3" y1="388.24" x2="278.3" y2="388.24" stroke="#333" stroke-width="1.2"/>
<text x="273.7" y="392.79" font-size="13" font-weight="bold" text-anchor="end" fill="#111" stroke="#111" stroke-width="0.3">40</text>
<line x1="275.3" y1="369" x2="278.3" y2="369" stroke="#333" stroke-width="1.2"/>
<text x="273.7" y="373.55" font-size="13" font-weight="bold" text-anchor="end" fill="#111" stroke="#111" stroke-width="0.3">50</text>
<line x1="296.5" y1="465.2" x2="296.5" y2="468.2" stroke="#333" stroke-width="1.2"/>
<text transform="translate(298.5,478) rotate(-45)" font-size="10.3" font-weight="bold" text-anchor="end" fill="#111" stroke="#111" stroke-width="0.3">SET 1</text>
<line x1="333.05" y1="465.2" x2="333.05" y2="468.2" stroke="#333" stroke-width="1.2"/>
<text transform="translate(335.05,478) rotate(-45)" font-size="10.3" font-weight="bold" text-anchor="end" fill="#111" stroke="#111" stroke-width="0.3">SET 2</text>
<line x1="369.1" y1="465.2" x2="369.1" y2="468.2" stroke="#333" stroke-width="1.2"/>
<text transform="translate(371.1,478) rotate(-45)" font-size="10.3" font-weight="bold" text-anchor="end" fill="#111" stroke="#111" stroke-width="0.3">SET 3</text>
<line x1="405.1" y1="465.2" x2="405.1" y2="468.2" stroke="#333" stroke-width="1.2"/>
<text transform="translate(407.1,478) rotate(-45)" font-size="10.3" font-weight="bold" text-anchor="end" fill="#111" stroke="#111" stroke-width="0.3">Total</text>
<text transform="translate(229.5,413.4) rotate(-90)" font-size="13.5" font-weight="bold" text-anchor="middle" fill="#111" stroke="#111" stroke-width="0.3" textLength="110.8" lengthAdjust="spacingAndGlyphs">Reverse Chin-ups</text>
<text transform="translate(245,413) rotate(-90)" font-size="13" font-weight="bold" text-anchor="middle" fill="#111" stroke="#111" stroke-width="0.3" textLength="76.2" lengthAdjust="spacingAndGlyphs">(repetitions)</text>
<rect x="283.3" y="333" width="9.4" height="6.8" rx="0.4" fill="#fff" stroke="#262626" stroke-width="1.4"/>
<rect x="283.3" y="348.1" width="9.4" height="6.8" rx="0.4" fill="#8a8a8a" stroke="#262626" stroke-width="1.4"/>
<text x="299.8" y="340.29" font-size="10.8" font-weight="normal" text-anchor="start" fill="#151515" textLength="49.6" lengthAdjust="spacingAndGlyphs" stroke="#151515" stroke-width="0.35">PLACEBO</text>
<text x="299.8" y="355.39" font-size="10.8" font-weight="normal" text-anchor="start" fill="#151515" textLength="106.2" lengthAdjust="spacingAndGlyphs" stroke="#151515" stroke-width="0.35">CITRULLINE MALATE</text>
<line x1="515.95" y1="439.03" x2="515.95" y2="427.56" stroke="#6c6c6c" stroke-width="1.3"/>
<line x1="513.7" y1="427.56" x2="518.2" y2="427.56" stroke="#6c6c6c" stroke-width="1.3"/>
<rect x="511.7" y="439.73" width="8.5" height="26.07" fill="#fff" stroke="#262626" stroke-width="1.4"/>
<line x1="529.25" y1="437.25" x2="529.25" y2="426.92" stroke="#6c6c6c" stroke-width="1.3"/>
<line x1="527" y1="426.92" x2="531.5" y2="426.92" stroke="#6c6c6c" stroke-width="1.3"/>
<rect x="525" y="437.95" width="8.5" height="27.85" fill="#8a8a8a" stroke="#262626" stroke-width="1.4"/>
<line x1="551.95" y1="449.04" x2="551.95" y2="441.58" stroke="#6c6c6c" stroke-width="1.3"/>
<line x1="549.7" y1="441.58" x2="554.2" y2="441.58" stroke="#6c6c6c" stroke-width="1.3"/>
<rect x="547.7" y="449.74" width="8.5" height="16.06" fill="#fff" stroke="#262626" stroke-width="1.4"/>
<line x1="565.35" y1="446.93" x2="565.35" y2="439.03" stroke="#6c6c6c" stroke-width="1.3"/>
<line x1="563.1" y1="439.03" x2="567.6" y2="439.03" stroke="#6c6c6c" stroke-width="1.3"/>
<rect x="561.1" y="447.63" width="8.5" height="18.17" fill="#8a8a8a" stroke="#262626" stroke-width="1.4"/>
<line x1="587.95" y1="452.29" x2="587.95" y2="445.41" stroke="#6c6c6c" stroke-width="1.3"/>
<line x1="585.7" y1="445.41" x2="590.2" y2="445.41" stroke="#6c6c6c" stroke-width="1.3"/>
<rect x="583.7" y="452.99" width="8.5" height="12.81" fill="#fff" stroke="#262626" stroke-width="1.4"/>
<line x1="601.35" y1="450.5" x2="601.35" y2="444.39" stroke="#6c6c6c" stroke-width="1.3"/>
<line x1="599.1" y1="444.39" x2="603.6" y2="444.39" stroke="#6c6c6c" stroke-width="1.3"/>
<rect x="597.1" y="451.2" width="8.5" height="14.6" fill="#8a8a8a" stroke="#262626" stroke-width="1.4"/>
<line x1="623.95" y1="408.63" x2="623.95" y2="384.86" stroke="#6c6c6c" stroke-width="1.3"/>
<line x1="621.7" y1="384.86" x2="626.2" y2="384.86" stroke="#6c6c6c" stroke-width="1.3"/>
<rect x="619.7" y="409.33" width="8.5" height="56.47" fill="#fff" stroke="#262626" stroke-width="1.4"/>
<line x1="637.35" y1="403.34" x2="637.35" y2="380.01" stroke="#6c6c6c" stroke-width="1.3"/>
<line x1="635.1" y1="380.01" x2="639.6" y2="380.01" stroke="#6c6c6c" stroke-width="1.3"/>
<rect x="633.1" y="404.04" width="8.5" height="61.76" fill="#8a8a8a" stroke="#262626" stroke-width="1.4"/>
<text x="637.4" y="379.02" font-size="11" font-weight="bold" text-anchor="middle" fill="#1a1a1a">*</text>
<line x1="504.8" y1="370.2" x2="504.8" y2="465.8" stroke="#333" stroke-width="1.3"/>
<line x1="504.8" y1="465.8" x2="649" y2="465.8" stroke="#333" stroke-width="1.3"/>
<line x1="501.8" y1="465.8" x2="504.8" y2="465.8" stroke="#333" stroke-width="1.2"/>
<text x="500.2" y="470.35" font-size="13" font-weight="bold" text-anchor="end" fill="#111" stroke="#111" stroke-width="0.3">0</text>
<line x1="501.8" y1="433.93" x2="504.8" y2="433.93" stroke="#333" stroke-width="1.2"/>
<text x="500.2" y="438.48" font-size="13" font-weight="bold" text-anchor="end" fill="#111" stroke="#111" stroke-width="0.3">50</text>
<line x1="501.8" y1="402.07" x2="504.8" y2="402.07" stroke="#333" stroke-width="1.2"/>
<text x="500.2" y="406.62" font-size="13" font-weight="bold" text-anchor="end" fill="#111" stroke="#111" stroke-width="0.3">100</text>
<line x1="501.8" y1="370.2" x2="504.8" y2="370.2" stroke="#333" stroke-width="1.2"/>
<text x="500.2" y="374.75" font-size="13" font-weight="bold" text-anchor="end" fill="#111" stroke="#111" stroke-width="0.3">150</text>
<line x1="522.6" y1="465.8" x2="522.6" y2="468.8" stroke="#333" stroke-width="1.2"/>
<text transform="translate(524.6,478.6) rotate(-45)" font-size="10.3" font-weight="bold" text-anchor="end" fill="#111" stroke="#111" stroke-width="0.3">SET 1</text>
<line x1="558.65" y1="465.8" x2="558.65" y2="468.8" stroke="#333" stroke-width="1.2"/>
<text transform="translate(560.65,478.6) rotate(-45)" font-size="10.3" font-weight="bold" text-anchor="end" fill="#111" stroke="#111" stroke-width="0.3">SET 2</text>
<line x1="594.65" y1="465.8" x2="594.65" y2="468.8" stroke="#333" stroke-width="1.2"/>
<text transform="translate(596.65,478.6) rotate(-45)" font-size="10.3" font-weight="bold" text-anchor="end" fill="#111" stroke="#111" stroke-width="0.3">SET 3</text>
<line x1="630.65" y1="465.8" x2="630.65" y2="468.8" stroke="#333" stroke-width="1.2"/>
<text transform="translate(632.65,478.6) rotate(-45)" font-size="10.3" font-weight="bold" text-anchor="end" fill="#111" stroke="#111" stroke-width="0.3">Total</text>
<text transform="translate(447.2,412.8) rotate(-90)" font-size="13.8" font-weight="bold" text-anchor="middle" fill="#111" stroke="#111" stroke-width="0.3" textLength="61.5" lengthAdjust="spacingAndGlyphs">Push-ups</text>
<text transform="translate(463.5,414.4) rotate(-90)" font-size="13" font-weight="bold" text-anchor="middle" fill="#111" stroke="#111" stroke-width="0.3" textLength="75.8" lengthAdjust="spacingAndGlyphs">(repetitions)</text>
<rect x="510.4" y="333.7" width="9.4" height="7" rx="0.4" fill="#fff" stroke="#262626" stroke-width="1.4"/>
<rect x="510.4" y="348.3" width="9.4" height="7" rx="0.4" fill="#8a8a8a" stroke="#262626" stroke-width="1.4"/>
<text x="526.5" y="341.09" font-size="10.8" font-weight="normal" text-anchor="start" fill="#151515" textLength="49.5" lengthAdjust="spacingAndGlyphs" stroke="#151515" stroke-width="0.35">PLACEBO</text>
<text x="526.5" y="355.69" font-size="10.8" font-weight="normal" text-anchor="start" fill="#151515" textLength="107.3" lengthAdjust="spacingAndGlyphs" stroke="#151515" stroke-width="0.35">CITRULLINE MALATE</text>
</svg></body></html>
